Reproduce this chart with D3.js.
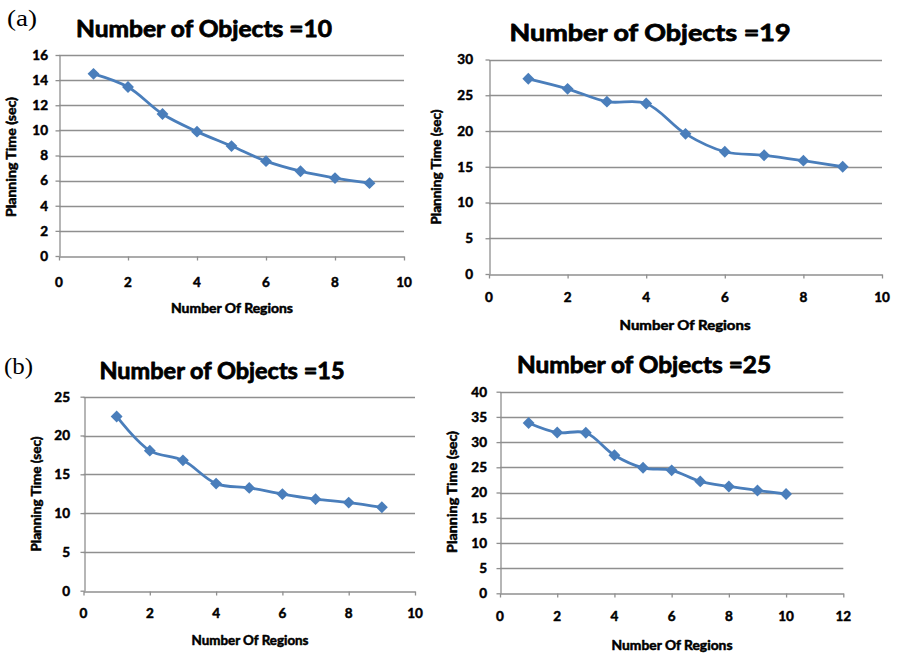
<!DOCTYPE html>
<html>
<head>
<meta charset="utf-8">
<script src="https://cdn.jsdelivr.net/npm/d3@7"></script>
<style>
  html, body { margin: 0; padding: 0; background: #fff; }
  svg { display: block; }
</style>
</head>
<body>
<svg id="chart" width="897" height="655"></svg>
<script>
// ---------- data ----------
const regionsA1 = [1, 2, 3, 4, 5, 6, 7, 8, 9];
const timesA1   = [14.5, 13.45, 11.3, 9.9, 8.75, 7.55, 6.75, 6.2, 5.8];   // Objects = 10

const regionsA2 = [1, 2, 3, 4, 5, 6, 7, 8, 9];
const timesA2   = [27.3, 25.9, 24.1, 23.85, 19.6, 17.1, 16.6, 15.85, 15.0]; // Objects = 19

const regionsB1 = [1, 2, 3, 4, 5, 6, 7, 8, 9];
const timesB1   = [22.45, 18.05, 16.8, 13.8, 13.25, 12.45, 11.8, 11.35, 10.75]; // Objects = 15

const regionsB2 = [1, 2, 3, 4, 5, 6, 7, 8, 9, 10];
const timesB2   = [33.8, 31.9, 31.85, 27.4, 24.9, 24.4, 22.2, 21.2, 20.4, 19.7]; // Objects = 25

const titles = ["Number of Objects =10", "Number of Objects =19", "Number of Objects =15", "Number of Objects =25"];
const xTicksA1 = [0, 2, 4, 6, 8, 10];
const xTicksA2 = [0, 2, 4, 6, 8, 10];
const xTicksB1 = [0, 2, 4, 6, 8, 10];
const xTicksB2 = [0, 2, 4, 6, 8, 10, 12];
const yTicksA1 = [0, 2, 4, 6, 8, 10, 12, 14, 16];
const yTicksA2 = [0, 5, 10, 15, 20, 25, 30];
const yTicksB1 = [0, 5, 10, 15, 20, 25];
const yTicksB2 = [0, 5, 10, 15, 20, 25, 30, 35, 40];
const xAxisTitle = "Number Of Regions";
const yAxisTitle = "Planning Time (sec)";
const panelLabels = ["(a)", "(b)"];

// ---------- layout ----------
const panels = [
  { x: regionsA1, y: timesA1, title: titles[0], xt: xTicksA1, yt: yTicksA1,
    L: 59, R: 404, T: 55, B: 256,
    tx: 204, ty: 37, tw: 256, ytr: 48, xtb: 287,
    ylx: 12, yly: 157, ylw: 120, xlx: 232, xly: 313, xlw: 122 },
  { x: regionsA2, y: timesA2, title: titles[1], xt: xTicksA2, yt: yTicksA2,
    L: 489, R: 882, T: 59.5, B: 274,
    tx: 650, ty: 41, tw: 281, ytr: 473, xtb: 302,
    ylx: 437, yly: 167, ylw: 115, xlx: 685, xly: 330, xlw: 131 },
  { x: regionsB1, y: timesB1, title: titles[2], xt: xTicksB1, yt: yTicksB1,
    L: 83.5, R: 415, T: 396.7, B: 590.7,
    tx: 222, ty: 379, tw: 245, ytr: 70, xtb: 618,
    ylx: 37, yly: 494, ylw: 115, xlx: 250, xly: 645, xlw: 117 },
  { x: regionsB2, y: timesB2, title: titles[3], xt: xTicksB2, yt: yTicksB2,
    L: 500, R: 843.3, T: 391.7, B: 593.3,
    tx: 644, ty: 373, tw: 254, ytr: 487, xtb: 621,
    ylx: 453, yly: 492, ylw: 122, xlx: 672, xly: 650, xlw: 121 }
];

const svg = d3.select("#chart");
const lineColor = "#4A7EBB";
const gridColor = "#8F8F8F";
const font = "Lato, 'Open Sans', sans-serif";

function boldText(sel, size, sw) {
  return sel.style("font-family", font).style("font-weight", 700).style("font-size", size)
    .attr("fill", "#000").attr("stroke", "#000").attr("stroke-width", sw)
    .attr("stroke-linejoin", "round");
}

panels.forEach(p => {
  const g = svg.append("g");
  const x = d3.scaleLinear().domain([p.xt[0], p.xt[p.xt.length - 1]]).range([p.L, p.R]);
  const y = d3.scaleLinear().domain([p.yt[0], p.yt[p.yt.length - 1]]).range([p.B, p.T]);

  // gridlines
  g.append("g").selectAll("line").data(p.yt.slice(1)).join("line")
    .attr("x1", p.L).attr("x2", p.R)
    .attr("y1", d => Math.round(y(d)) + 0.5).attr("y2", d => Math.round(y(d)) + 0.5)
    .attr("stroke", gridColor).attr("stroke-width", 1.3);

  // y axis
  const ya = g.append("g").attr("transform", `translate(${Math.round(p.L) + 0.5},0)`)
    .call(d3.axisLeft(y).tickValues(p.yt).tickSize(4).tickSizeOuter(0).tickPadding(0));
  ya.select(".domain").attr("stroke", gridColor).attr("stroke-width", 1.3);
  ya.selectAll(".tick line").attr("stroke", gridColor).attr("stroke-width", 1.3);
  ya.selectAll(".tick text").remove();
  boldText(g.append("g").selectAll("text").data(p.yt).join("text")
    .attr("x", p.ytr).attr("y", d => y(d)).attr("dy", "0.36em")
    .attr("text-anchor", "end"), "13.5px", 0.5).text(d => d);

  // x axis
  const xa = g.append("g").attr("transform", `translate(0,${Math.round(p.B) + 0.5})`)
    .call(d3.axisBottom(x).tickValues(p.xt).tickSize(4).tickSizeOuter(0));
  xa.select(".domain").attr("stroke", gridColor).attr("stroke-width", 1.3);
  xa.selectAll(".tick line").attr("stroke", gridColor).attr("stroke-width", 1.3);
  xa.selectAll(".tick text").remove();
  boldText(g.append("g").selectAll("text").data(p.xt).join("text")
    .attr("x", d => x(d)).attr("y", p.xtb)
    .attr("text-anchor", "middle"), "13.5px", 0.5).text(d => d);

  // series line
  const pts = p.x.map((v, i) => [v, p.y[i]]);
  g.append("path").datum(pts)
    .attr("fill", "none").attr("stroke", lineColor).attr("stroke-width", 2.8)
    .attr("stroke-linejoin", "round")
    .attr("d", d3.line().x(d => x(d[0])).y(d => y(d[1])).curve(d3.curveCatmullRom.alpha(0.5)));

  // diamond markers
  g.append("g").selectAll("rect").data(pts).join("rect")
    .attr("x", -4.2).attr("y", -4.2).attr("width", 8.4).attr("height", 8.4)
    .attr("fill", lineColor)
    .attr("transform", d => `translate(${x(d[0])},${y(d[1])}) rotate(45)`);

  // title
  boldText(g.append("text").attr("x", p.tx).attr("y", p.ty).attr("text-anchor", "middle")
    .attr("textLength", p.tw).attr("lengthAdjust", "spacingAndGlyphs"), "23px", 0.8)
    .text(p.title);

  // axis titles
  boldText(g.append("text").attr("transform", `translate(${p.ylx + 4},${p.yly}) rotate(-90)`)
    .attr("text-anchor", "middle")
    .attr("textLength", p.ylw).attr("lengthAdjust", "spacingAndGlyphs"), "12.5px", 0.5)
    .text(yAxisTitle);

  boldText(g.append("text").attr("x", p.xlx).attr("y", p.xly).attr("text-anchor", "middle")
    .attr("textLength", p.xlw).attr("lengthAdjust", "spacingAndGlyphs"), "12.5px", 0.5)
    .text(xAxisTitle);
});

// panel labels (a), (b)
const serif = "'Liberation Serif', 'Times New Roman', serif";
svg.append("text").attr("x", 7).attr("y", 26)
  .attr("textLength", 30).attr("lengthAdjust", "spacingAndGlyphs")
  .style("font-family", serif).style("font-size", "24px")
  .attr("fill", "#000").text(panelLabels[0]);
svg.append("text").attr("x", 4).attr("y", 374)
  .attr("textLength", 29).attr("lengthAdjust", "spacingAndGlyphs")
  .style("font-family", serif).style("font-size", "24px")
  .attr("fill", "#000").text(panelLabels[1]);
</script>
</body>
</html>
